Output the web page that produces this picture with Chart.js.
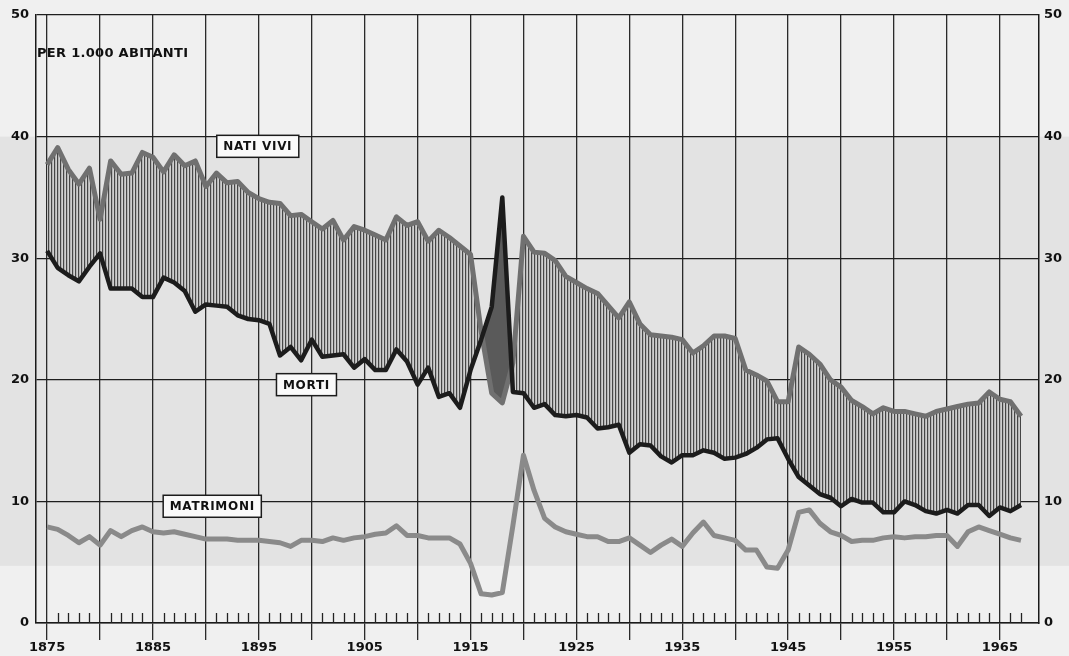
<!DOCTYPE html>
<html>
<head>
<meta charset="utf-8">
<script src="https://cdn.jsdelivr.net/npm/chart.js@4.4.0/dist/chart.umd.min.js"></script>
<style>
  html, body { margin: 0; padding: 0; background: #f0f0f0; }
  #wrap { width: 1069px; height: 656px; }
</style>
</head>
<body>
<div id="wrap"><canvas id="c" width="1069" height="656"></canvas></div>
<script>
// tassi per 1.000 abitanti, 1875-1967
const firstYear = 1875;

const natiVivi = [
  37.7, 39.1, 37.3, 36.1, 37.4, 33.2, 38.0, 36.9, 37.0, 38.7,
  38.3, 37.1, 38.5, 37.6, 38.0, 35.9, 37.0, 36.2, 36.3, 35.4,
  34.9, 34.6, 34.5, 33.5, 33.6, 33.0, 32.4, 33.1, 31.5, 32.6,
  32.3, 31.9, 31.5, 33.4, 32.7, 33.0, 31.4, 32.3, 31.7, 31.0,
  30.3, 24.0, 18.9, 18.1, 21.4, 31.8, 30.5, 30.4, 29.8, 28.5,
  28.0, 27.5, 27.1, 26.1, 25.1, 26.4, 24.6, 23.7, 23.6, 23.5,
  23.3, 22.2, 22.8, 23.6, 23.6, 23.4, 20.8, 20.4, 19.9, 18.2,
  18.2, 22.7, 22.1, 21.3, 20.0, 19.4, 18.3, 17.8, 17.2, 17.7,
  17.4, 17.4, 17.2, 17.0, 17.4, 17.6, 17.8, 18.0, 18.1, 19.0,
  18.4, 18.2, 17.0
];

const morti = [
  30.6, 29.2, 28.6, 28.1, 29.3, 30.4, 27.5, 27.5, 27.5, 26.8,
  26.8, 28.4, 28.0, 27.3, 25.6, 26.2, 26.1, 26.0, 25.3, 25.0,
  24.9, 24.6, 22.0, 22.7, 21.6, 23.3, 21.9, 22.0, 22.1, 21.0,
  21.7, 20.8, 20.8, 22.5, 21.5, 19.6, 21.0, 18.6, 18.9, 17.7,
  20.8, 23.3, 26.0, 35.0, 19.0, 18.9, 17.7, 18.0, 17.1, 17.0,
  17.1, 16.9, 16.0, 16.1, 16.3, 14.0, 14.7, 14.6, 13.7, 13.2,
  13.8, 13.8, 14.2, 14.0, 13.5, 13.6, 13.9, 14.4, 15.1, 15.2,
  13.5, 12.0, 11.3, 10.6, 10.3, 9.6, 10.2, 9.9, 9.9, 9.1,
  9.1, 10.0, 9.7, 9.2, 9.0, 9.3, 9.0, 9.7, 9.7, 8.8,
  9.5, 9.2, 9.7
];

const matrimoni = [
  7.9, 7.7, 7.2, 6.6, 7.1, 6.4, 7.6, 7.1, 7.6, 7.9,
  7.5, 7.4, 7.5, 7.3, 7.1, 6.9, 6.9, 6.9, 6.8, 6.8,
  6.8, 6.7, 6.6, 6.3, 6.8, 6.8, 6.7, 7.0, 6.8, 7.0,
  7.1, 7.3, 7.4, 8.0, 7.2, 7.2, 7.0, 7.0, 7.0, 6.5,
  4.9, 2.4, 2.3, 2.5, 8.0, 13.8, 10.9, 8.6, 7.9, 7.5,
  7.3, 7.1, 7.1, 6.7, 6.7, 7.0, 6.4, 5.8, 6.4, 6.9,
  6.3, 7.4, 8.3, 7.2, 7.0, 6.8, 6.0, 6.0, 4.6, 4.5,
  6.0, 9.1, 9.3, 8.2, 7.5, 7.2, 6.7, 6.8, 6.8, 7.0,
  7.1, 7.0, 7.1, 7.1, 7.2, 7.2, 6.3, 7.5, 7.9, 7.6,
  7.3, 7.0, 6.8
];

const gridYears = [1875, 1880, 1885, 1890, 1895, 1900, 1905, 1910, 1915, 1920,
  1925, 1930, 1935, 1940, 1945, 1950, 1955, 1960, 1965];
const labelYears = [1875, 1885, 1895, 1905, 1915, 1925, 1935, 1945, 1955, 1965];
const yTicks = [0, 10, 20, 30, 40, 50];

const years = natiVivi.map((v, i) => firstYear + i);
const pts = arr => arr.map((v, i) => ({ x: years[i], y: v }));

const canvas = document.getElementById('c');
const ctx = canvas.getContext('2d');

// tratteggio verticale fra nati e morti
const pc = document.createElement('canvas');
pc.width = 3; pc.height = 8;
const pg = pc.getContext('2d');
pg.fillStyle = '#cfcfcf'; pg.fillRect(0, 0, 3, 8);
pg.fillStyle = '#b4b4b4'; pg.fillRect(1, 0, 1, 8);
pg.fillStyle = '#464646'; pg.fillRect(0, 0, 1, 8);
const hatch = ctx.createPattern(pc, 'repeat');

const tickFont = { family: 'DejaVu Sans', weight: 'bold', size: 13 };

const background = {
  id: 'background',
  beforeDraw(chart) {
    const c = chart.ctx, y = chart.scales.y;
    c.save();
    c.fillStyle = '#f0f0f0';
    c.fillRect(0, 0, chart.width, chart.height);
    const top = y.getPixelForValue(40), bot = y.getPixelForValue(4.7);
    c.fillStyle = '#e3e3e3';
    c.fillRect(0, top, chart.width, bot - top);
    c.restore();
  }
};

const minorTicks = {
  id: 'minorTicks',
  afterDraw(chart) {
    const c = chart.ctx, x = chart.scales.x, base = chart.chartArea.bottom;
    c.save();
    c.strokeStyle = '#222';
    c.lineWidth = 1.3;
    for (const yr of years) {
      if (gridYears.includes(yr)) continue;
      const px = Math.round(x.getPixelForValue(yr)) + 0.5;
      c.beginPath();
      c.moveTo(px, base);
      c.lineTo(px, base - 10);
      c.stroke();
    }
    c.restore();
  }
};

const labels = {
  id: 'labels',
  afterDatasetsDraw(chart) {
    const c = chart.ctx, x = chart.scales.x, y = chart.scales.y;
    c.save();
    c.fillStyle = '#111';
    c.font = 'bold 13px "DejaVu Sans"';
    c.letterSpacing = '0.3px';
    c.textBaseline = 'middle';
    c.textAlign = 'left';
    c.fillText('PER 1.000 ABITANTI', chart.chartArea.left + 1, y.getPixelForValue(46.8));

    const boxes = [['NATI VIVI', 1894.9, 39.2], ['MORTI', 1899.5, 19.6], ['MATRIMONI', 1890.6, 9.6]];
    c.font = 'bold 12px "DejaVu Sans"';
    c.letterSpacing = '0.7px';
    c.textAlign = 'center';
    for (const [t, xv, yv] of boxes) {
      const cx = x.getPixelForValue(xv), cy = y.getPixelForValue(yv);
      const w = c.measureText(t).width + 13, h = 22;
      c.fillStyle = '#fafafa';
      c.fillRect(cx - w / 2, cy - h / 2, w, h);
      c.strokeStyle = '#1c1c1c';
      c.lineWidth = 1.5;
      c.strokeRect(cx - w / 2, cy - h / 2, w, h);
      c.fillStyle = '#111';
      c.fillText(t, cx, cy + 1);
    }
    c.restore();
  }
};

new Chart(ctx, {
  type: 'line',
  data: {
    datasets: [
      {
        label: 'Nati vivi',
        data: pts(natiVivi),
        borderColor: '#707070',
        borderWidth: 5,
        pointRadius: 0,
        tension: 0,
        borderJoinStyle: 'round',
        fill: { target: 1, above: hatch, below: '#5a5a5a' },
        order: 2
      },
      {
        label: 'Morti',
        data: pts(morti),
        borderColor: '#1c1c1c',
        borderWidth: 4.5,
        pointRadius: 0,
        tension: 0,
        borderJoinStyle: 'round',
        fill: false,
        order: 1
      },
      {
        label: 'Matrimoni',
        data: pts(matrimoni),
        borderColor: '#8a8a8a',
        borderWidth: 5,
        pointRadius: 0,
        tension: 0,
        borderJoinStyle: 'round',
        fill: false,
        order: 3
      }
    ]
  },
  options: {
    responsive: false,
    animation: false,
    devicePixelRatio: 1,
    layout: { padding: { top: 15, left: 0, right: 0, bottom: 0 } },
    plugins: { legend: { display: false }, tooltip: { enabled: false } },
    scales: {
      x: {
        type: 'linear',
        min: 1873.95,
        max: 1968.7,
        afterBuildTicks: s => { s.ticks = gridYears.map(v => ({ value: v })); },
        afterFit: s => { s.height = 33; },
        grid: { color: '#2a2a2a', lineWidth: 1.3, drawTicks: true, tickLength: 17, tickColor: '#2a2a2a' },
        border: { display: true, color: '#1a1a1a', width: 1.5 },
        ticks: {
          autoSkip: false, maxRotation: 0, minRotation: 0, padding: 0,
          color: '#111', font: tickFont,
          callback: v => labelYears.includes(v) ? String(v) : ''
        }
      },
      y: {
        position: 'left',
        min: 0, max: 50,
        afterBuildTicks: s => { s.ticks = yTicks.map(v => ({ value: v })); },
        afterFit: s => { s.width = 36; },
        grid: { color: '#1e1e1e', lineWidth: 1.3, drawTicks: false },
        border: { display: true, color: '#1a1a1a', width: 1.5 },
        ticks: { padding: 7, color: '#111', font: tickFont }
      },
      y2: {
        position: 'right',
        min: 0, max: 50,
        afterBuildTicks: s => { s.ticks = yTicks.map(v => ({ value: v })); },
        afterFit: s => { s.width = 30; },
        grid: { display: false, drawTicks: false },
        border: { display: true, color: '#1a1a1a', width: 1.5 },
        ticks: { padding: 5, color: '#111', font: tickFont }
      }
    }
  },
  plugins: [background, minorTicks, labels]
});
</script>
</body>
</html>
